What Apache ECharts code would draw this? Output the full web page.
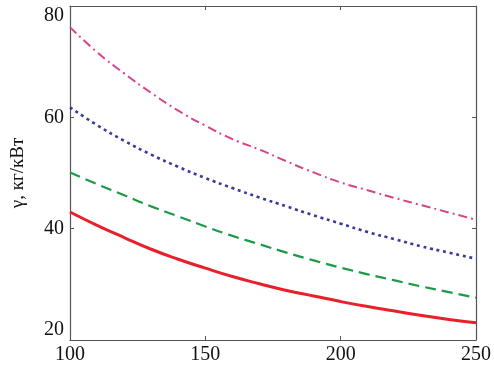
<!DOCTYPE html>
<html>
<head>
<meta charset="utf-8">
<script src="https://cdn.jsdelivr.net/npm/echarts@6/dist/echarts.min.js"></script>
<style>
html,body{margin:0;padding:0;background:#fff;}
#c{width:494px;height:367px;}
</style>
</head>
<body>
<div id="c"></div>
<script>
const xValues = [100,110,120,130,140,150,160,170,180,190,200,210,220,230,240,250];
const redSolid   = [43.0,40.6,38.4,36.3,34.5,32.9,31.4,30.1,28.9,27.9,26.9,26.0,25.2,24.4,23.7,23.1];
const greenDash  = [50.1,48.0,46.0,44.0,42.2,40.4,38.7,37.2,35.7,34.3,33.0,31.8,30.7,29.6,28.6,27.6];
const blueDot    = [61.8,58.6,55.8,53.3,51.1,49.1,47.3,45.6,44.0,42.4,40.9,39.4,38.1,36.8,35.7,34.6];
const pinkDashDot= [76.2,71.7,67.9,64.4,61.2,58.5,56.1,54.2,52.1,50.1,48.3,46.9,45.5,44.2,42.9,41.6];
const xTicks = [100,150,200,250];
const yTicks = [20,40,60,80];
const yName = 'γ, кг/кВт';

const font = 'Liberation Serif';
function pairs(ys){ return xValues.map((x,i)=>[x, ys[i]]); }

const chart = echarts.init(document.getElementById('c'), null, {renderer:'canvas'});
const axisLineStyle = {color:'#555', width:1.2};
chart.setOption({
  backgroundColor:'#fff',
  animation:false,
  grid:{left:70, right:14, top:6, bottom:27, containLabel:false},
  xAxis:[{
    type:'value', min:xTicks[0], max:xTicks[xTicks.length-1], interval:50,
    axisLine:{show:true, onZero:false, lineStyle:axisLineStyle},
    axisTick:{show:true, inside:true, length:4, lineStyle:{color:'#555'}},
    splitLine:{show:false},
    axisLabel:{fontFamily:font, fontSize:20, color:'#111', margin:5, showMinLabel:true, showMaxLabel:true}
  },{
    type:'value', position:'top', min:xTicks[0], max:xTicks[xTicks.length-1], interval:50,
    axisLine:{show:true, onZero:false, lineStyle:axisLineStyle},
    axisTick:{show:true, inside:true, length:4, lineStyle:{color:'#555'}},
    axisLabel:{show:false}, splitLine:{show:false}
  }],
  yAxis:[{
    type:'value', min:yTicks[0], max:yTicks[yTicks.length-1], interval:20,
    name:yName, nameLocation:'middle', nameGap:42,
    nameTextStyle:{fontFamily:font, fontSize:19, color:'#111'},
    axisLine:{show:true, onZero:false, lineStyle:axisLineStyle},
    axisTick:{show:true, inside:true, length:4, lineStyle:{color:'#555'}},
    splitLine:{show:false},
    axisLabel:{fontFamily:font, fontSize:20, color:'#111', margin:6,
      verticalAlignMinLabel:'bottom', verticalAlignMaxLabel:'top'}
  },{
    type:'value', position:'right', min:yTicks[0], max:yTicks[yTicks.length-1], interval:20,
    axisLine:{show:true, onZero:false, lineStyle:axisLineStyle},
    axisTick:{show:true, inside:true, length:4, lineStyle:{color:'#555'}},
    axisLabel:{show:false}, splitLine:{show:false}
  }],
  series:[
    {type:'line', data:pairs(pinkDashDot), smooth:true, showSymbol:false,
     lineStyle:{color:'#d6428a', width:2, type:[9,4,2,4]}},
    {type:'line', data:pairs(blueDot), smooth:true, showSymbol:false,
     lineStyle:{color:'#3a3a9a', width:2.6, type:[3,3.7], cap:'butt'}},
    {type:'line', data:pairs(greenDash), smooth:true, showSymbol:false,
     lineStyle:{color:'#1c9a48', width:2.2, type:[11,6]}},
    {type:'line', data:pairs(redSolid), smooth:true, showSymbol:false,
     lineStyle:{color:'#e8202c', width:3, type:'solid'}}
  ]
});
</script>
</body>
</html>
